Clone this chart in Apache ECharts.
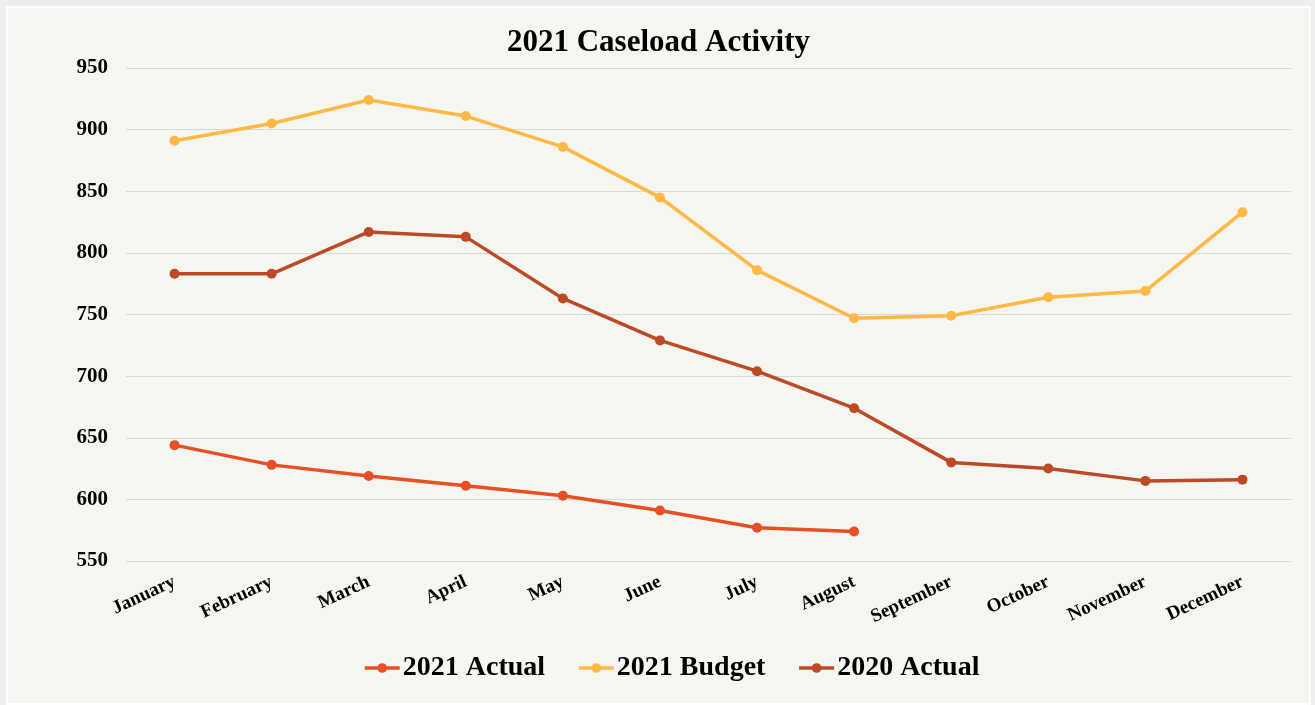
<!DOCTYPE html>
<html>
<head>
<meta charset="utf-8">
<script src="https://cdn.jsdelivr.net/npm/echarts@6/dist/echarts.min.js"></script>
<style>
  html, body { margin: 0; padding: 0; background: #eeeeee; }
  #main { position: absolute; left: 6px; top: 6px; width: 1305px; height: 699px;
          background: #f6f6f1; border: 2px solid #ffffff; box-sizing: border-box; }
</style>
</head>
<body>
<div id="main"></div>
<script>
var months = ["January", "February", "March", "April", "May", "June",
  "July", "August", "September", "October", "November", "December"];
var actual2021 = [644, 628, 619, 611, 603, 591, 577, 574];
var budget2021 = [891, 905, 924, 911, 886, 845, 786, 747, 749, 764, 769, 833];
var actual2020 = [783, 783, 817, 813, 763, 729, 704, 674, 630, 625, 615, 616];

var font = "'Liberation Serif', 'Times New Roman', serif";
var chartDom = document.getElementById("main");
var myChart = echarts.init(chartDom);
var option;

function lineSeries(name, data, color) {
  return {
    name: name,
    type: "line",
    data: data,
    symbol: "circle",
    symbolSize: 10,
    color: color,
    lineStyle: { width: 3.5, color: color },
    itemStyle: { color: color },
  };
}

option = {
  animation: false,
  title: {
    text: "2021 Caseload Activity",
    left: "center",
    top: 14,
    textStyle: { fontFamily: font, fontSize: 31, fontWeight: "bold", color: "#000" },
  },
  grid: { left: 118, right: 18, top: 60, bottom: 142 },
  xAxis: {
    type: "category",
    data: months,
    boundaryGap: true,
    axisLine: { show: false },
    axisTick: { show: false },
    axisLabel: {
      rotate: 25,
      interval: 0,
      margin: 20,
      fontFamily: font,
      fontSize: 19,
      fontWeight: "bold",
      color: "#000",
    },
  },
  yAxis: {
    type: "value",
    min: 550,
    max: 950,
    interval: 50,
    axisLine: { show: false },
    axisTick: { show: false },
    axisLabel: { margin: 18, fontFamily: font, fontSize: 21, fontWeight: "bold", color: "#000" },
    splitLine: { lineStyle: { color: "#d9d9d9", width: 1 } },
  },
  legend: {
    bottom: 16,
    left: 350,
    itemWidth: 35,
    itemHeight: 12,
    itemGap: 32,
    lineStyle: { width: 3.5 },
    textStyle: { fontFamily: font, fontSize: 28, fontWeight: "bold", color: "#000", padding: [0, 0, 0, -2] },
  },
  series: [
    lineSeries("2021 Actual", actual2021, "#e84f24"),
    lineSeries("2021 Budget", budget2021, "#ffb845"),
    lineSeries("2020 Actual", actual2020, "#bc4a26"),
  ],
};

option && myChart.setOption(option);
</script>
</body>
</html>
